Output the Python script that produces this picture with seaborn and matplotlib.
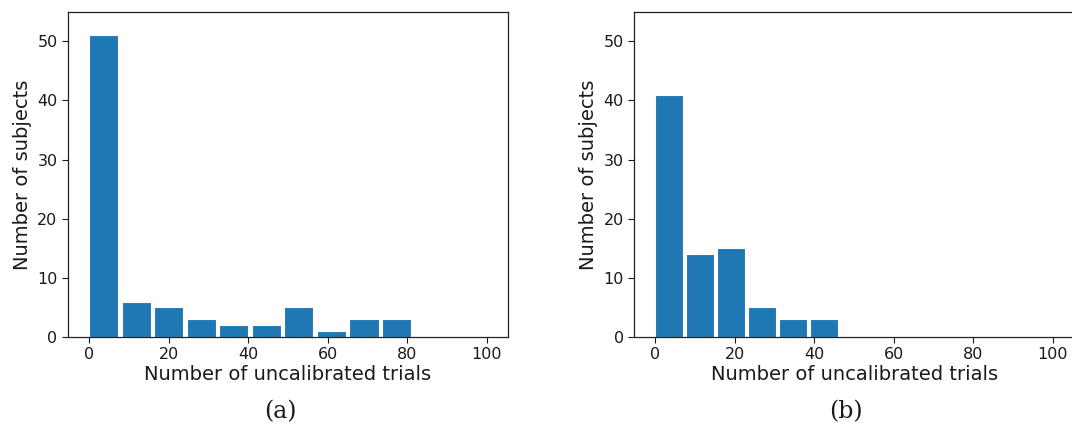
import numpy as np
import pandas as pd
import matplotlib
matplotlib.use("Agg")
import matplotlib.pyplot as plt
import seaborn as sns

# ---- data ----
counts_a = [51, 6, 5, 3, 2, 2, 5, 1, 3, 3]
range_a = (-0.4, 81.4)          # histogram bin range, 10 bins
counts_b = [41, 14, 15, 5, 3, 3]
range_b = (-0.4, 46.4)          # histogram bin range, 6 bins
xticks = [0, 20, 40, 60, 80, 100]
yticks = [0, 10, 20, 30, 40, 50]
xlabel = "Number of uncalibrated trials"
ylabel = "Number of subjects"
captions = ["(a)", "(b)"]

sns.set_theme(style="ticks")
plt.rcParams["font.family"] = ["DejaVu Sans"]

W, H = 1072, 429
fig = plt.figure(figsize=(W / 100, H / 100), dpi=100)

def px_axes(left, top, right, bottom):
    return fig.add_axes([left / W, 1 - bottom / H, (right - left) / W, (bottom - top) / H])

ax_a = px_axes(68, 11.7, 507.7, 337)
ax_b = px_axes(634.3, 11.7, 1074.0, 337)

def draw(ax, counts, rng, cap, cap_x):
    n = len(counts)
    edges = np.linspace(rng[0], rng[1], n + 1)
    centers = (edges[:-1] + edges[1:]) / 2
    df = pd.DataFrame({"x": centers, "w": counts})
    sns.histplot(data=df, x="x", weights="w", bins=n, binrange=rng, shrink=0.9,
                 color="#1f77b4", alpha=1.0, edgecolor="white", linewidth=0.8,
                 ax=ax)
    ax.set_xlim(-5.3, 105.3)
    ax.set_ylim(0, 55)
    ax.set_xticks(xticks)
    ax.set_yticks(yticks)
    ax.tick_params(labelsize=11.5, colors="#1a1a1a", length=4, width=0.8)
    ax.set_xlabel(xlabel, fontsize=14, color="#1a1a1a", labelpad=2)
    ax.set_ylabel(ylabel, fontsize=14, color="#1a1a1a", labelpad=4)
    for s in ax.spines.values():
        s.set_visible(True)
        s.set_color("#222222")
        s.set_linewidth(0.9)
    fig.text(cap_x / W, 1 - 412 / H, cap, ha="center", va="center",
             fontsize=17, family=["DejaVu Serif"], color="#1a1a1a")

draw(ax_a, counts_a, range_a, captions[0], 280)
draw(ax_b, counts_b, range_b, captions[1], 846)

fig.savefig("out.png", dpi=100)
